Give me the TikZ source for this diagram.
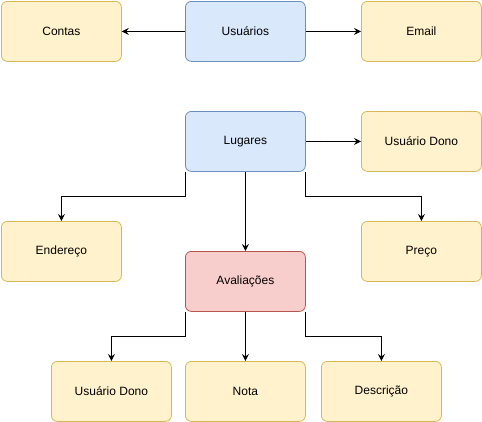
\documentclass[tikz,border=0pt]{standalone}
\usepackage{fontspec}
\setmainfont{Liberation Sans}
\usetikzlibrary{arrows.meta}
\definecolor{yfill}{HTML}{FFF2CC}\definecolor{ydraw}{HTML}{D6B656}
\definecolor{bfill}{HTML}{DAE8FC}\definecolor{bdraw}{HTML}{6C8EBF}
\definecolor{rfill}{HTML}{F8CECC}\definecolor{rdraw}{HTML}{B85450}
\tikzset{
  box/.style={rectangle, rounded corners=6pt, minimum width=120pt, minimum height=60pt, inner sep=0pt, line width=0.8pt, font=\fontsize{12}{14}\selectfont, anchor=north west},
  ybox/.style={box, fill=yfill, draw=ydraw},
  bbox/.style={box, fill=bfill, draw=bdraw},
  rbox/.style={box, fill=rfill, draw=rdraw},
  conn/.style={line width=0.8pt, -{Stealth[length=7pt,width=7pt,inset=2.5pt]}}
}
\begin{document}
\begin{tikzpicture}[x=1pt,y=-1pt]
\useasboundingbox (0,0) rectangle (482,421);
\node[ybox] (contas) at (1,1) {Contas};
\node[bbox] (usuarios) at (185,1) {Usuários};
\node[ybox] (email) at (361,1) {Email};
\node[bbox] (lugares) at (185,111) {Lugares};
\node[ybox] (dono1) at (361,111) {Usuário Dono};
\node[ybox] (endereco) at (1,221) {Endereço};
\node[ybox] (preco) at (361,221) {Preço};
\node[rbox] (aval) at (185,251) {Avaliações};
\node[ybox] (dono2) at (51,361) {Usuário Dono};
\node[ybox] (nota) at (185,361) {Nota};
\node[ybox] (desc) at (321,361) {Descrição};
\draw[conn] (usuarios.west) -- (contas.east);
\draw[conn] (usuarios.east) -- (email.west);
\draw[conn] (lugares.east) -- (dono1.west);
\draw[conn] (lugares.south west) -- ++(0,25) -| (endereco.north);
\draw[conn] (lugares.south) -- (aval.north);
\draw[conn] (lugares.south east) -- ++(0,25) -| (preco.north);
\draw[conn] (aval.south west) -- ++(0,25) -| (dono2.north);
\draw[conn] (aval.south) -- (nota.north);
\draw[conn] (aval.south east) -- ++(0,25) -| (desc.north);
\end{tikzpicture}
\end{document}
